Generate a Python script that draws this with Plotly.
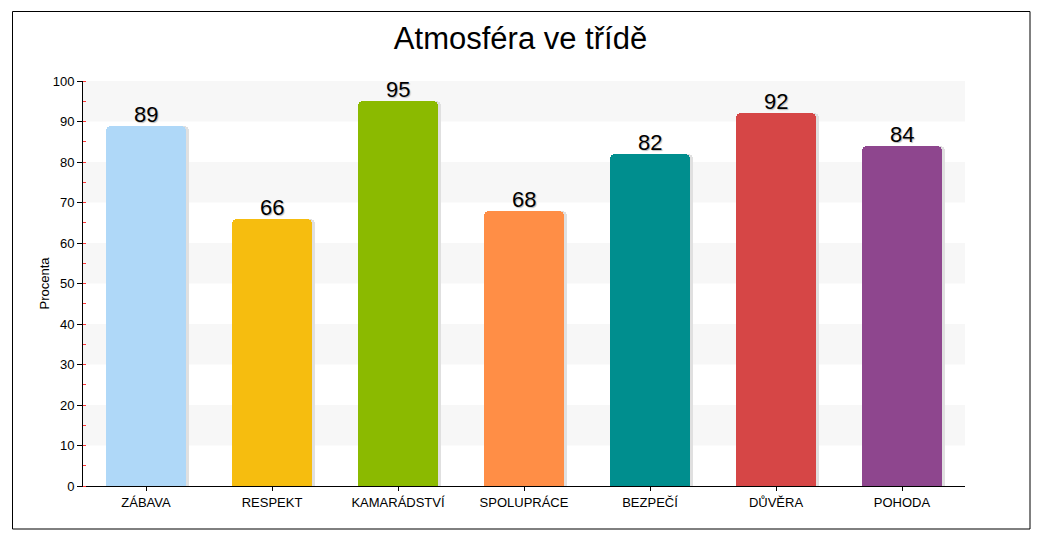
import plotly.graph_objects as go

categories = ["ZÁBAVA", "RESPEKT", "KAMARÁDSTVÍ", "SPOLUPRÁCE", "BEZPEČÍ", "DŮVĚRA", "POHODA"]
values = [89, 66, 95, 68, 82, 92, 84]
colors = ["#afd8f8", "#f6bd0f", "#8bba00", "#ff8e46", "#008e8e", "#d64646", "#8e468e"]
y_ticks = list(range(0, 101, 10))

W, H = 1041, 541
L, R, T, B = 83, 76, 81, 55
pw, ph = W - L - R, H - T - B

bar_w = 0.63
fig = go.Figure()

# shadow bars
fig.add_trace(go.Bar(
    x=categories, y=values, width=bar_w, offset=-bar_w / 2 + 0.03,
    marker=dict(color="#e0e0e0", cornerradius=5, line=dict(width=0)),
    hoverinfo="skip", showlegend=False,
))
fig.add_trace(go.Bar(
    x=categories, y=values, width=bar_w, offset=-bar_w / 2,
    marker=dict(color=colors, cornerradius=5, line=dict(width=0)),
    showlegend=False,
))

annotations = [
    dict(x=c, y=v, xref="x", yref="y", text=str(v), showarrow=False, yanchor="bottom", yshift=-3,
         font=dict(size=22, color="#000000", family="Liberation Sans, Arial",
                   shadow="1px 1px 1px #bbbbbb"))
    for c, v in zip(categories, values)
]

shapes = []
for lo in range(10, 100, 20):
    shapes.append(dict(type="rect", xref="paper", yref="y", x0=0, x1=1, y0=lo, y1=lo + 10,
                       fillcolor="#f7f7f7", line=dict(width=0), layer="below"))
# outer border
shapes.append(dict(type="rect", xref="paper", yref="paper",
                   x0=(12.5 - L) / pw, x1=(1030 - L) / pw,
                   y0=(H - B - 529) / ph, y1=(H - B - 11.5) / ph,
                   line=dict(color="#000000", width=1), fillcolor="rgba(0,0,0,0)"))

fig.update_layout(
    width=W, height=H,
    margin=dict(l=L, r=R, t=T, b=B),
    paper_bgcolor="white", plot_bgcolor="white",
    barmode="overlay", bargap=0,
    title=dict(text="Atmosféra ve třídě", x=0.5, xanchor="center", y=1 - 38 / H, yanchor="middle",
               font=dict(size=31, color="#000000", family="Liberation Sans, Arial")),
    font=dict(family="Liberation Sans, Arial", color="#000000"),
    shapes=shapes,
    annotations=annotations,
    xaxis=dict(showline=True, linecolor="#000000", linewidth=1, ticks="outside", ticklen=4,
               tickcolor="#000000", showgrid=False, tickfont=dict(size=13),
               range=[-0.5, 6.5], fixedrange=True),
    yaxis=dict(range=[0, 100], tickvals=y_ticks, showline=True, linecolor="#000000", linewidth=1,
               ticks="outside", ticklen=5, tickcolor="#000000", showgrid=False, zeroline=False,
               tickfont=dict(size=13),
               title=dict(text="Procenta", font=dict(size=13), standoff=0),
               minor=dict(dtick=5, ticks="inside", ticklen=3, tickcolor="#ff3333")),
)

fig.write_html("out.html")
